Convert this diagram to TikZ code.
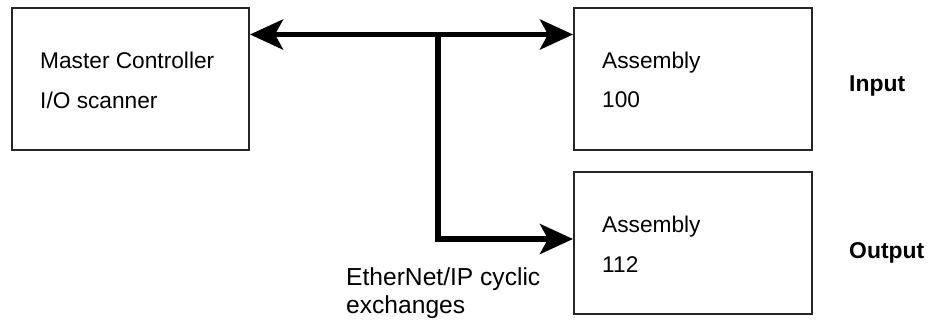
\documentclass[tikz,border=0pt]{standalone}
\usepackage{fontspec}
\setmainfont{Liberation Sans}
\usetikzlibrary{arrows.meta}
\tikzset{
  box/.style={draw=black!85, line width=1.3bp, inner sep=0pt, outer sep=0pt, anchor=north west},
  boxtext/.style={anchor=base west, inner sep=0pt, font=\fontsize{22.7bp}{26bp}\selectfont},
  sidetext/.style={anchor=base west, inner sep=0pt, font=\fontsize{22.9bp}{26bp}\selectfont\bfseries},
  labeltext/.style={anchor=base west, inner sep=0pt, font=\fontsize{24.6bp}{28bp}\selectfont},
  bus/.style={line width=5.5bp, line join=miter},
  bigtip/.tip={Stealth[length=33bp, width=30bp, inset=8bp]}
}
\begin{document}
\begin{tikzpicture}[x=1bp, y=-1bp]
\useasboundingbox (0,0) rectangle (940,322);
\fill[white] (0,0) rectangle (940,322);
% boxes
\node[box, minimum width=237bp, minimum height=142bp] (mc) at (12,8) {};
\node[box, minimum width=238bp, minimum height=142bp] (a100) at (574,8) {};
\node[box, minimum width=238bp, minimum height=142bp] (a112) at (574,172) {};
% box texts
\node[boxtext] (mc1) at (40,68) {Master Controller};
\node[boxtext] (mc2) at (40,108) {I/O scanner};
\node[boxtext] (a1001) at (602,68) {Assembly};
\node[boxtext] (a1002) at (602,107) {100};
\node[boxtext] (a1121) at (602,232) {Assembly};
\node[boxtext] (a1122) at (602,272) {112};
% side labels
\node[sidetext] (inp) at (849,91) {Input};
\node[sidetext] (outp) at (849,258) {Output};
% bus label
\node[labeltext] (eth1) at (346,285) {EtherNet/IP cyclic};
\node[labeltext] (eth2) at (346,313) {exchanges};
% connectors
\coordinate (jt) at (438,34.5);
\coordinate (jb) at (438,239);
\draw[bus, {bigtip}-{bigtip}] ([xshift=1bp]mc.east |- jt) -- ([xshift=-1bp]a100.west |- jt);
\draw[bus, -{bigtip}] (jt) |- ([xshift=-1bp]a112.west |- jb);
\end{tikzpicture}
\end{document}
